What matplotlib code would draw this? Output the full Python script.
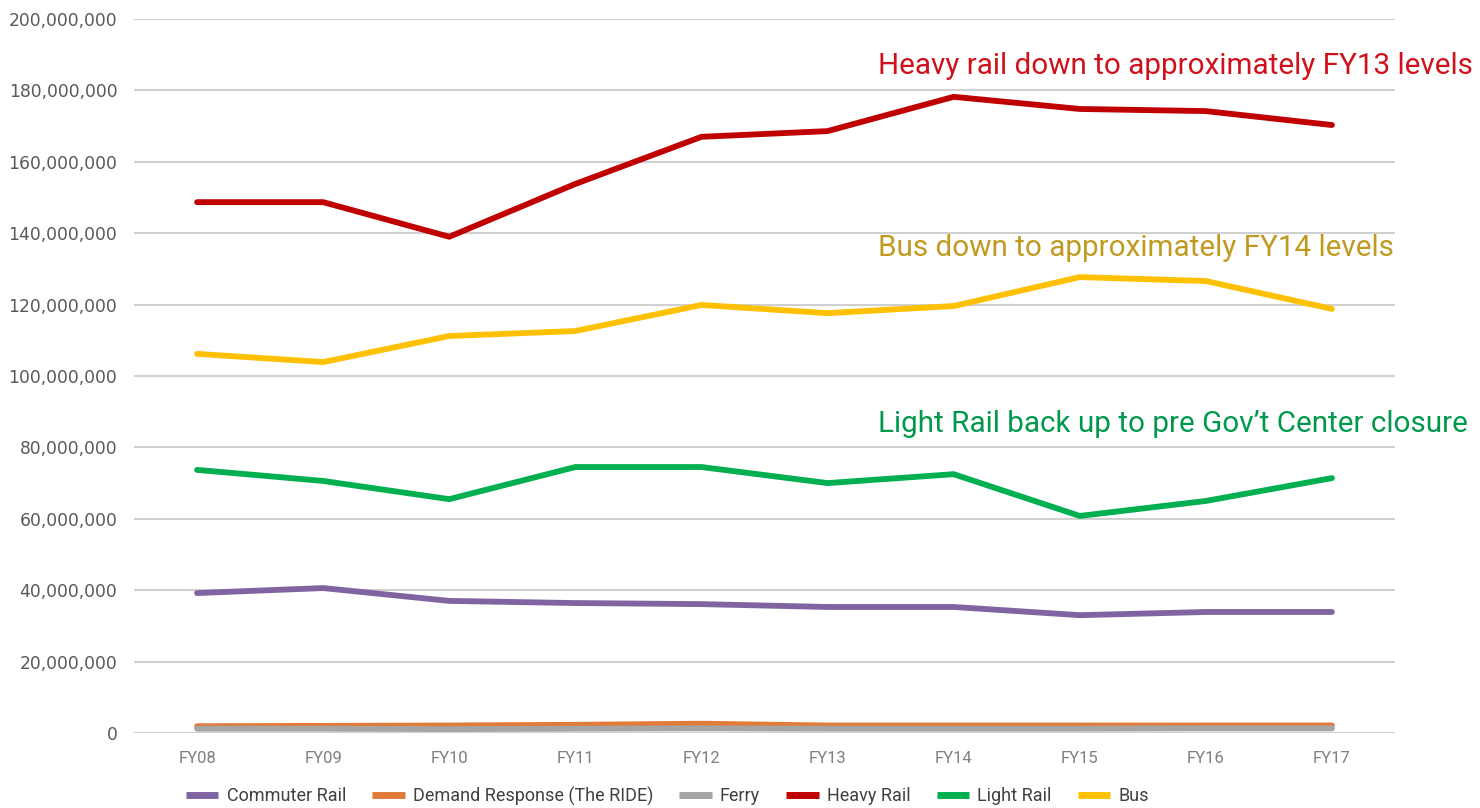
import matplotlib
matplotlib.use("Agg")
import matplotlib.pyplot as plt
from matplotlib.ticker import FuncFormatter, MultipleLocator
from matplotlib import font_manager

years = ["FY08", "FY09", "FY10", "FY11", "FY12", "FY13", "FY14", "FY15", "FY16", "FY17"]
commuter_rail = [39.2e6, 40.6e6, 37.0e6, 36.4e6, 36.1e6, 35.3e6, 35.3e6, 33.0e6, 33.9e6, 33.9e6]
demand_response = [1.9e6, 2.0e6, 2.1e6, 2.3e6, 2.6e6, 2.1e6, 2.1e6, 2.1e6, 2.1e6, 2.1e6]
ferry = [1.2e6, 1.2e6, 1.1e6, 1.2e6, 1.3e6, 1.2e6, 1.2e6, 1.2e6, 1.3e6, 1.3e6]
heavy_rail = [148.7e6, 148.7e6, 139.0e6, 153.8e6, 167.0e6, 168.6e6, 178.2e6, 174.8e6, 174.2e6, 170.3e6]
light_rail = [73.7e6, 70.6e6, 65.5e6, 74.5e6, 74.5e6, 70.0e6, 72.5e6, 60.8e6, 65.0e6, 71.4e6]
bus = [106.2e6, 103.9e6, 111.2e6, 112.6e6, 119.9e6, 117.6e6, 119.6e6, 127.7e6, 126.6e6, 118.8e6]

series_names = ["Commuter Rail", "Demand Response (The RIDE)", "Ferry", "Heavy Rail", "Light Rail", "Bus"]
series_values = [commuter_rail, demand_response, ferry, heavy_rail, light_rail, bus]
series_colors = ["#8064A2", "#E07B39", "#A5A5A5", "#C00000", "#00B050", "#FFC000"]

notes = ["Heavy rail down to approximately FY13 levels",
         "Bus down to approximately FY14 levels",
         "Light Rail back up to pre Gov\u2019t Center closure"]
note_colors = ["#D0101A", "#C09A20", "#00994C"]

avail = {f.name for f in font_manager.fontManager.ttflist}
narrow = "Liberation Sans Narrow" if "Liberation Sans Narrow" in avail else "Roboto"

fig = plt.figure(figsize=(14.8, 8.08), dpi=100)
ax = fig.add_axes([134/1480, 1-733/808, (1395-134)/1480, (733-19)/808])

x = list(range(len(years)))
for name, vals, col in zip(series_names, series_values, series_colors):
    ax.plot(x, vals, color=col, lw=4.2, label=name, solid_capstyle="round", solid_joinstyle="round")

ax.set_xlim(-0.5, len(years) - 0.5)
ax.set_ylim(0, 200e6)
ax.yaxis.set_major_locator(MultipleLocator(20e6))
ax.yaxis.set_major_formatter(FuncFormatter(lambda v, p: f"{int(v):,}"))
ax.set_xticks(x)
ax.set_xticklabels(years, family=narrow, fontsize=12, color="#7F7F7F")
for lab in ax.get_yticklabels():
    lab.set_fontsize(12.3)
    lab.set_color("#595959")
    lab.set_family("DejaVu Sans")
ax.tick_params(axis="both", length=0)
ax.tick_params(axis="y", pad=12)
ax.tick_params(axis="x", pad=13)
ax.grid(axis="y", color="#D0D0D0", lw=1.5)
ax.set_axisbelow(True)
for s in ax.spines.values():
    s.set_visible(False)

ypos = [66, 248, 424]
for t, c, yp in zip(notes, note_colors, ypos):
    fig.text(878/1480, 1 - yp/808, t, color=c, fontsize=21.3, family=narrow, va="center", ha="left")

leg = fig.legend(loc="center", bbox_to_anchor=(0.451, 1 - 796/808), ncol=6, frameon=False,
                 prop={"family": narrow, "size": 13}, handlelength=1.8, columnspacing=1.45, handletextpad=0.45)
for h in leg.get_lines():
    h.set_linewidth(5)
    h.set_solid_capstyle("butt")
for t in leg.get_texts():
    t.set_color("#404040")

fig.savefig("out.png", dpi=100)
